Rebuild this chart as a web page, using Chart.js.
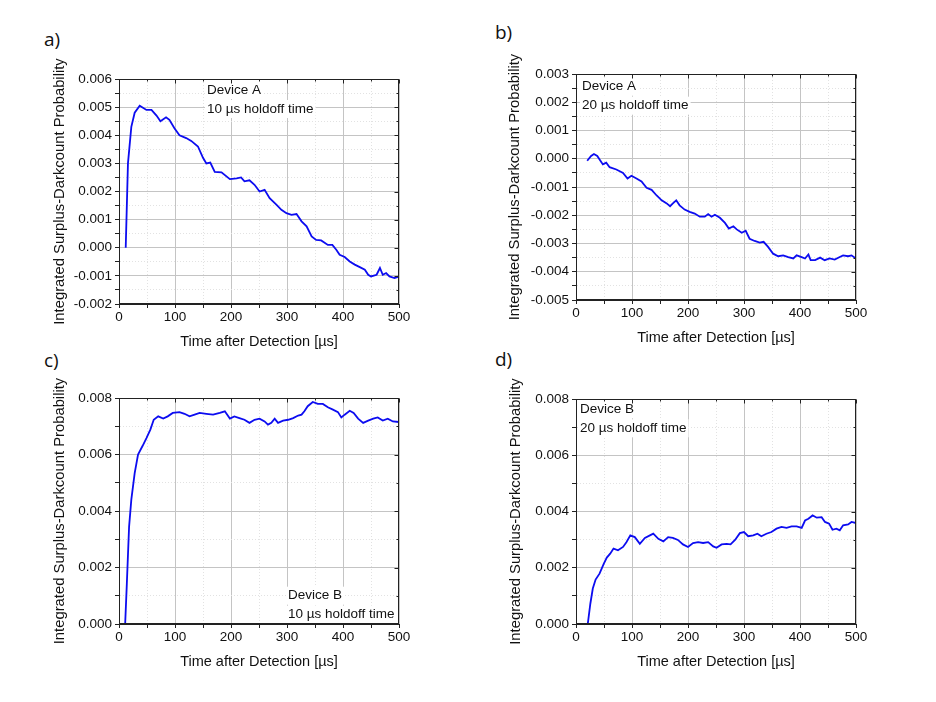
<!DOCTYPE html>
<html>
<head>
<meta charset="utf-8">
<script src="https://cdn.jsdelivr.net/npm/chart.js@4.4.1/dist/chart.umd.min.js"></script>
<style>
  body { margin: 0; background: #fff; width: 936px; height: 702px; position: relative; overflow: hidden; }
  canvas { position: absolute; }
  .tag { position: absolute; font-family: 'Open Sans', sans-serif; font-size: 19px; line-height: 19px; color: #111; }
</style>
</head>
<body>
<div class="tag" style="left:44px;top:30px">a)</div>
<div class="tag" style="left:495px;top:23px">b)</div>
<div class="tag" style="left:44px;top:351px">c)</div>
<div class="tag" style="left:495px;top:350px">d)</div>

<canvas id="pa" width="372" height="300" style="left:47px;top:54px"></canvas>
<canvas id="pb" width="372" height="301" style="left:504px;top:49px"></canvas>
<canvas id="pc" width="372" height="301" style="left:47px;top:373px"></canvas>
<canvas id="pd" width="372" height="300" style="left:504px;top:374px"></canvas>

<script>
// a) Device A, 10 us holdoff
const timeA10 = [12, 16, 22, 28, 37, 49, 58, 67, 74, 84, 90, 99, 108, 120, 129, 141, 150, 156, 163, 171, 183, 198, 210, 218, 224, 233, 242, 251, 260, 269, 281, 290, 299, 308, 317, 326, 335, 344, 352, 361, 373, 381, 388, 394, 403, 412, 421, 430, 439, 445, 450, 460, 466, 471, 477, 483, 492, 500]
const probA10 = [0, 0.003, 0.0043, 0.0048, 0.00505, 0.0049, 0.0049, 0.0047, 0.0045, 0.00464, 0.00455, 0.00425, 0.0040, 0.0039, 0.0038, 0.0036, 0.0032, 0.0030, 0.00303, 0.0027, 0.00268, 0.00244, 0.00247, 0.0025, 0.00236, 0.0024, 0.00224, 0.0020, 0.00206, 0.00176, 0.00153, 0.00135, 0.00123, 0.00117, 0.0012, 0.00094, 0.00076, 0.0004, 0.00028, 0.00026, 0.0001, 0.0001, -0.00007, -0.00025, -0.00033, -0.00049, -0.0006, -0.00069, -0.00078, -0.00096, -0.00102, -0.00096, -0.00072, -0.00096, -0.0009, -0.00102, -0.00108, -0.00102]

// b) Device A, 20 us holdoff
const timeA20 = [20, 27, 32, 38, 43, 48, 54, 60, 72, 84, 92, 99, 108, 117, 126, 135, 144, 153, 162, 168, 173, 179, 185, 194, 203, 212, 221, 230, 236, 242, 248, 257, 266, 273, 281, 287, 296, 303, 310, 319, 328, 335, 343, 352, 361, 370, 379, 388, 394, 403, 409, 415, 419, 427, 436, 444, 453, 462, 471, 477, 486, 492, 500]
const probA20 = [-0.00007, 0.0001, 0.00017, 0.0001, -0.00005, -0.0002, -0.00014, -0.0003, -0.00038, -0.0005, -0.0007, -0.0006, -0.0007, -0.0008, -0.00103, -0.0011, -0.0013, -0.00147, -0.00158, -0.00168, -0.00158, -0.00147, -0.00165, -0.0018, -0.00188, -0.00194, -0.00205, -0.00205, -0.00196, -0.00205, -0.00198, -0.00209, -0.00227, -0.00247, -0.00239, -0.0025, -0.00262, -0.00255, -0.00283, -0.00291, -0.00297, -0.00294, -0.00312, -0.00336, -0.00345, -0.00342, -0.00348, -0.00353, -0.00342, -0.00348, -0.00353, -0.00339, -0.00359, -0.00359, -0.0035, -0.00359, -0.00353, -0.00357, -0.00348, -0.00342, -0.00345, -0.00342, -0.00353]

// c) Device B, 10 us holdoff
const timeB10 = [11, 14, 18, 22, 28, 34, 42, 49, 56, 62, 70, 79, 87, 96, 108, 117, 126, 135, 144, 156, 168, 180, 189, 198, 206, 215, 224, 233, 242, 251, 260, 266, 272, 278, 284, 293, 302, 311, 320, 326, 331, 337, 346, 355, 364, 373, 382, 391, 397, 403, 412, 419, 427, 436, 445, 454, 462, 471, 480, 489, 500]
const probB10 = [0, 0.00143, 0.00344, 0.0044, 0.00534, 0.006, 0.0063, 0.00658, 0.00688, 0.00723, 0.00735, 0.00727, 0.00735, 0.00747, 0.0075, 0.00744, 0.00735, 0.00741, 0.00747, 0.00744, 0.00741, 0.00747, 0.00753, 0.00727, 0.00735, 0.00729, 0.00723, 0.00712, 0.00723, 0.00727, 0.00717, 0.00706, 0.00712, 0.00727, 0.00712, 0.0072, 0.00723, 0.00729, 0.00738, 0.00741, 0.00753, 0.00771, 0.00786, 0.00779, 0.00779, 0.00767, 0.00759, 0.0075, 0.00731, 0.00741, 0.00755, 0.00747, 0.00727, 0.00712, 0.0072, 0.00727, 0.00731, 0.0072, 0.00727, 0.00717, 0.00715]

// d) Device B, 20 us holdoff
const timeB20 = [21, 25.6, 30, 35, 42, 49.5, 55, 61, 67, 75, 84, 90, 97, 105, 114, 123, 132, 138, 147, 156, 164.5, 173, 182, 191, 200, 209, 218, 227, 236, 245, 251, 260, 269, 276, 284, 292.6, 300, 307.5, 316.5, 324, 331, 340, 349, 358, 367, 376, 385, 394, 403, 409, 415, 422.5, 430, 438.6, 444.6, 452, 458, 465, 471, 477, 486, 492, 500]
const probB20 = [0, 0.00072, 0.00126, 0.00158, 0.00179, 0.00214, 0.00236, 0.0025, 0.00268, 0.00262, 0.00274, 0.00291, 0.00315, 0.00309, 0.00285, 0.00306, 0.00315, 0.00321, 0.00303, 0.00294, 0.00309, 0.00306, 0.00299, 0.00283, 0.00274, 0.00288, 0.00291, 0.00288, 0.00291, 0.00276, 0.00271, 0.00283, 0.00285, 0.00283, 0.00299, 0.00323, 0.00327, 0.00312, 0.00315, 0.00321, 0.00312, 0.00321, 0.00327, 0.00339, 0.00345, 0.00342, 0.00347, 0.00347, 0.00342, 0.00368, 0.00374, 0.00386, 0.00378, 0.0038, 0.00363, 0.00357, 0.00335, 0.00339, 0.00333, 0.00351, 0.00354, 0.00363, 0.00359]

const xTitle = 'Time after Detection [µs]'
const yTitle = 'Integrated Surplus-Darkcount Probability'

const FONT = '"Liberation Sans", Arial, sans-serif'
Chart.defaults.font.family = FONT
Chart.defaults.color = '#111'

const majorGrid = '#c4c4c4'
const minorGrid = '#e2e2e2'

// frame, inner ticks on top/right, y title (longer than the plot) and the device note
const boxPlugin = {
   id: 'box',
   beforeDatasetsDraw(chart, args, opts) {
      const { ctx, chartArea: a } = chart
      ctx.save()
      ctx.font = '13.5px ' + FONT
      ctx.textBaseline = 'middle'
      opts.lines.forEach((line, i) => {
         const y = a.top + opts.dy + i * 19
         const w = ctx.measureText(line).width
         ctx.fillStyle = '#fff'
         ctx.fillRect(a.left + opts.dx - 2, y - 9, w + 4, 18)
         ctx.fillStyle = '#111'
         ctx.fillText(line, a.left + opts.dx, y)
      })
      ctx.restore()
   },
   afterDraw(chart, args, opts) {
      const { ctx, chartArea: a, scales } = chart
      const L = Math.round(a.left) + 0.5, R = Math.round(a.right) - 0.5
      const T = Math.round(a.top) + 0.5, B = Math.round(a.bottom) - 0.5
      ctx.save()
      ctx.strokeStyle = '#222'
      ctx.lineWidth = 1
      ctx.beginPath()
      scales.x.ticks.forEach((t, i) => {
         const px = Math.round(scales.x.getPixelForValue(t.value)) + 0.5
         const len = i % 2 ? 2 : 4
         ctx.moveTo(px, T); ctx.lineTo(px, T + len)
      })
      scales.y.ticks.forEach((t, i) => {
         const py = Math.round(scales.y.getPixelForValue(t.value)) + 0.5
         const len = i % 2 ? 2 : 4
         ctx.moveTo(R, py); ctx.lineTo(R - len, py)
      })
      ctx.stroke()
      ctx.strokeRect(L, T, R - L, B - T)

      ctx.translate(a.left - opts.titleGap, (a.top + a.bottom) / 2)
      ctx.rotate(-Math.PI / 2)
      ctx.font = '14.8px ' + FONT
      ctx.fillStyle = '#111'
      ctx.textAlign = 'center'
      ctx.textBaseline = 'middle'
      ctx.fillText(yTitle, 0, 0)
      ctx.restore()
   }
}

const makePanel = (id, times, probs, yMin, yMax, yStep, note) => {
   const half = yStep / 2
   const isMajorY = v => Math.round((v - yMin) / half) % 2 === 0
   const isMajorX = v => Math.round(v / 50) % 2 === 0
   const points = times.map((t, i) => ({ x: t, y: probs[i] }))
   new Chart(document.getElementById(id), {
      type: 'line',
      data: {
         datasets: [{
            data: points,
            borderColor: '#0c0cf0',
            borderWidth: 1.8,
            pointRadius: 0,
            tension: 0,
            fill: false
         }]
      },
      options: {
         responsive: false,
         animation: false,
         layout: { padding: { left: 0, top: 25, right: 20, bottom: 0 } },
         plugins: {
            legend: { display: false },
            tooltip: { enabled: false },
            box: note
         },
         scales: {
            x: {
               type: 'linear',
               min: 0,
               max: 500,
               afterFit: scale => { scale.height = 50 },
               ticks: {
                  stepSize: 50,
                  autoSkip: false,
                  maxRotation: 0,
                  padding: 1.5,
                  font: { size: 13.5 },
                  callback: v => isMajorX(v) ? String(v) : ''
               },
               grid: {
                  color: c => isMajorX(c.tick.value) ? majorGrid : minorGrid,
                  tickColor: '#222',
                  tickLength: 4
               },
               border: {
                  color: '#222',
                  dash: c => c.tick && !isMajorX(c.tick.value) ? [1, 2] : []
               },
               title: {
                  display: true,
                  text: xTitle,
                  font: { size: 14.5 },
                  padding: { top: 0, bottom: 3 }
               }
            },
            y: {
               min: yMin,
               max: yMax,
               afterFit: scale => { scale.width = 72 },
               ticks: {
                  stepSize: half,
                  autoSkip: false,
                  padding: 3,
                  font: { size: 13.5 },
                  callback: v => isMajorY(v) ? v.toFixed(3) : ''
               },
               grid: {
                  color: c => isMajorY(c.tick.value) ? majorGrid : minorGrid,
                  tickColor: '#222',
                  tickLength: 4
               },
               border: {
                  color: '#222',
                  dash: c => c.tick && !isMajorY(c.tick.value) ? [1, 2] : []
               },
               title: { display: false }
            }
         }
      },
      plugins: [boxPlugin]
   })
}

makePanel('pa', timeA10, probA10, -0.002, 0.006, 0.001,
   { lines: ['Device A', '10 µs holdoff time'], dx: 88, dy: 11, titleGap: 59 })
makePanel('pb', timeA20, probA20, -0.005, 0.003, 0.001,
   { lines: ['Device A', '20 µs holdoff time'], dx: 6, dy: 12.7, titleGap: 61 })
makePanel('pc', timeB10, probB10, 0, 0.008, 0.002,
   { lines: ['Device B', '10 µs holdoff time'], dx: 169, dy: 197.7, titleGap: 59 })
makePanel('pd', timeB20, probB20, 0, 0.008, 0.002,
   { lines: ['Device B', '20 µs holdoff time'], dx: 4, dy: 10.3, titleGap: 60 })
</script>
</body>
</html>
